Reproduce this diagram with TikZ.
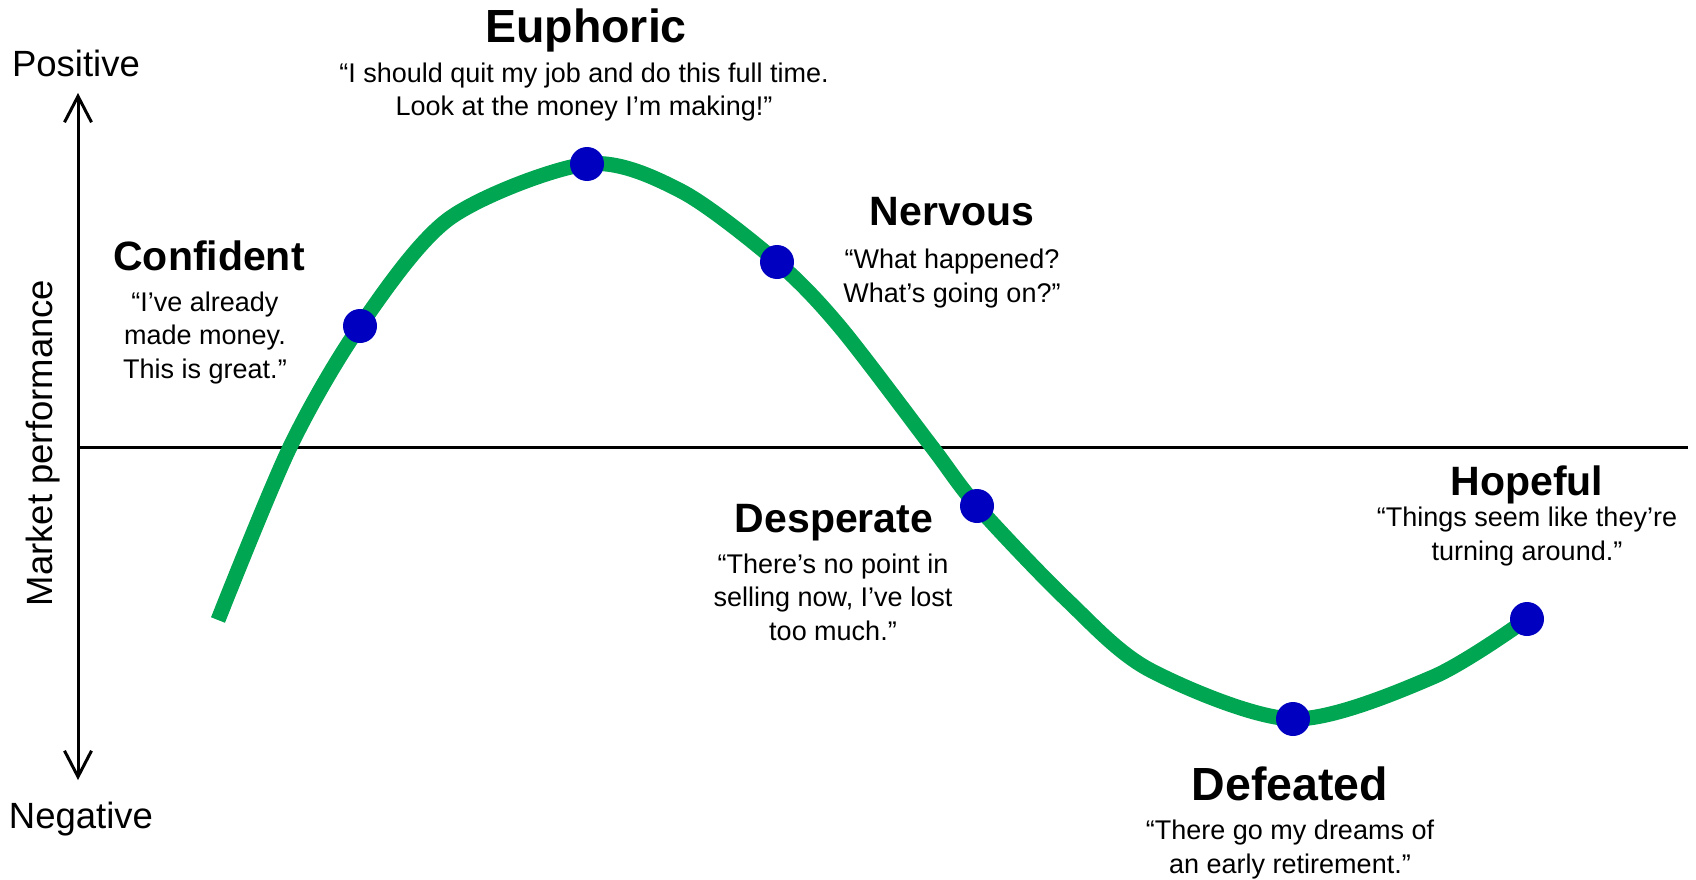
\documentclass[tikz,border=0pt]{standalone}
\usepackage{fontspec}
\setmainfont{Liberation Sans}
\usetikzlibrary{arrows.meta}
\definecolor{curvegreen}{RGB}{0,166,81}
\definecolor{dotblue}{RGB}{0,0,192}

\begin{document}
\begin{tikzpicture}[x=1pt, y=-1pt]
\tikzstyle{stagename}=[font=\bfseries\fontsize{41}{45}\selectfont, anchor=base, inner sep=0pt]
\tikzstyle{stagebig}=[stagename, font=\bfseries\fontsize{46.5}{50}\selectfont]
\tikzstyle{stagequote}=[font=\fontsize{27}{33.5}\selectfont, align=center, anchor=base, inner sep=0pt]
\tikzstyle{axislabel}=[font=\fontsize{36.5}{40}\selectfont, anchor=base, inner sep=0pt]
\tikzstyle{dotstyle}=[circle, fill=dotblue, minimum size=34pt, inner sep=0pt]
\tikzstyle{curvestyle}=[draw=curvegreen, line width=15pt]
\tikzstyle{axisstyle}=[line width=3pt]
\tikzstyle{axisarrow}=[axisstyle, {Straight Barb[length=26pt,width=27pt]}-{Straight Barb[length=26pt,width=27pt]}]

\useasboundingbox (0,0) rectangle (1696,880);

\coordinate (Ytop) at (78,93);
\coordinate (Ybot) at (78,780);
\coordinate (Xorg) at (78,447);
\coordinate (Xend) at (1688,447);
\draw[axisarrow] (Ybot) -- (Ytop);
\draw[axisstyle] (Xorg) -- (Xend);

\node[axislabel] (Pos) at (76,77) {Positive};
\node[axislabel] (Neg) at (81,828) {Negative};
\node[axislabel, rotate=90] (Perf) at (52,443) {Market performance};

% base of a quote node = baseline of its last line
\node[stagename] (Conf) at (209,270) {Confident};
\node[stagequote] (ConfQ) at (205,378) {“I’ve already\\made money.\\This is great.”};
\node[stagebig] (Euph) at (586,43) {Euphoric};
\node[stagequote] (EuphQ) at (584,116) {“I should quit my job and do this full time.\\Look at the money I’m making!”};
\node[stagename] (Nerv) at (952,225) {Nervous};
\node[stagequote] (NervQ) at (952,302) {“What happened?\\What’s going on?”};
\node[stagename] (Desp) at (834,532) {Desperate};
\node[stagequote] (DespQ) at (833,640) {“There’s no point in\\selling now, I’ve lost\\too much.”};
\node[stagebig] (Defe) at (1290,800) {Defeated};
\node[stagequote] (DefeQ) at (1290,873) {“There go my dreams of\\an early retirement.”};
\node[stagename] (Hope) at (1527,495) {Hopeful};
\node[stagequote] (HopeQ) at (1527,560) {“Things seem like they’re\\turning around.”};

\coordinate (P0) at (218,620);
\coordinate (P1) at (360,326);
\coordinate (P2) at (587,164);
\coordinate (P3) at (777,262);
\coordinate (P4) at (977,506);
\coordinate (P5) at (1293,719);
\coordinate (P6) at (1527,619);
\draw[curvestyle] plot[smooth, tension=0.5] coordinates {(P0) (290,447) (P1) (450,218) (P2) (681,191) (P3) (840,327) (932,447) (P4) (1067,600) (1150,670) (P5) (1433,677) (P6)};

\node[dotstyle] (D1) at (P1) {};
\node[dotstyle] (D2) at (P2) {};
\node[dotstyle] (D3) at (P3) {};
\node[dotstyle] (D4) at (P4) {};
\node[dotstyle] (D5) at (P5) {};
\node[dotstyle] (D6) at (P6) {};
\end{tikzpicture}
\end{document}
